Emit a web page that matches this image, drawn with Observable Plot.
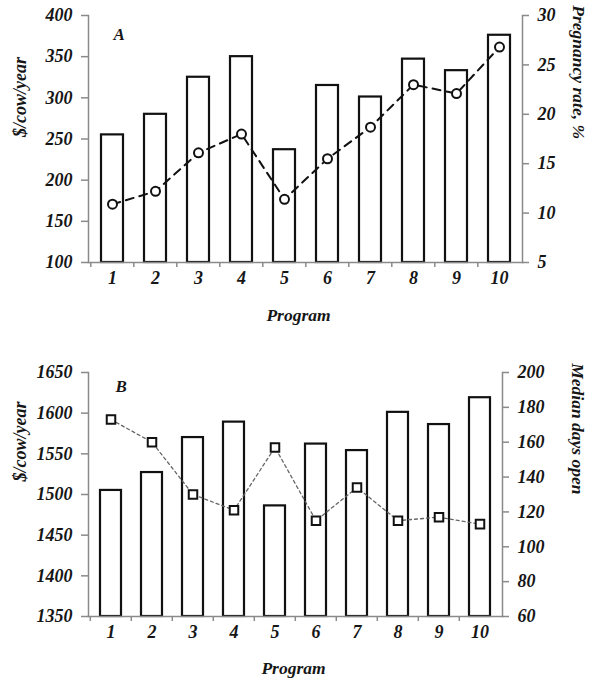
<!DOCTYPE html>
<html><head><meta charset="utf-8">
<script src="https://cdn.jsdelivr.net/npm/d3@7"></script>
<script src="https://cdn.jsdelivr.net/npm/@observablehq/plot@0.6"></script>
<style>
body{margin:0;background:#fff;}
#chart svg{display:block;}
</style></head><body><div id="chart"></div>
<script>
const programs = [1,2,3,4,5,6,7,8,9,10];
const incomeA = [255,280,325,350,237,315,301,347,333,376];
const pregnancyRate = [10.9,12.2,16.1,18.0,11.4,15.5,18.7,23.0,22.1,26.8];
const incomeB = [1505,1527,1570,1589,1486,1562,1554,1601,1586,1619];
const daysOpen = [173,160,130,121,157,115,134,115,117,113];
const ticksA = [100,150,200,250,300,350,400];
const ticksA2 = [5,10,15,20,25,30];
const ticksB = [1350,1400,1450,1500,1550,1600,1650];
const ticksB2 = [60,80,100,120,140,160,180,200];

function panel(cfg){
  const {width, height, ml, mr, mt, mb, yDom, y2Dom, yTicks, y2Ticks, bars, line, letter, rightLabel, symbol, lineStyle, dotR, letterDx, letterDy, leftDy, rightDx, progDx, progDy} = cfg;
  const map = d3.scaleLinear(y2Dom, yDom);
  const rows = programs.map((p,i)=>({program:p, bar:bars[i], v:line[i], vm:map(line[i])}));
  const step = (width - ml - mr)/programs.length;
  const axisGray = "#8a8a8a";
  return Plot.plot({
    width, height, marginLeft: ml, marginRight: mr, marginTop: mt, marginBottom: mb,
    style: {fontFamily: "'Liberation Serif', 'DejaVu Serif', serif", fontWeight: "bold", fontStyle: "italic", fontSize: "18px", color: "#161616", background: "white", overflow: "visible"},
    x: {type: "band", domain: programs, paddingInner: 0.5, paddingOuter: 0.25, axis: null},
    y: {domain: yDom, axis: null},
    marks: [
      Plot.barY(rows, {x: "program", y1: yDom[0], y2: "bar", fill: "white", stroke: "#111", strokeWidth: 2.2}),
      Plot.line(rows, {x: "program", y: "vm", ...lineStyle}),
      Plot.dot(rows, {x: "program", y: "vm", symbol, r: dotR, fill: "white", stroke: "#111", strokeWidth: 2}),
      Plot.frame({anchor: "left", stroke: axisGray, strokeWidth: 1.5}),
      Plot.frame({anchor: "right", stroke: axisGray, strokeWidth: 1.5}),
      Plot.frame({anchor: "bottom", stroke: axisGray, strokeWidth: 1.5}),
      Plot.axisY(yTicks, {anchor: "left", tickSize: 7, tickPadding: 9, tickFormat: d => String(d), stroke: axisGray, strokeWidth: 1.5, label: null}),
      Plot.axisY(y2Ticks, {anchor: "right", y: map, tickFormat: d => String(d), tickSize: 6, tickPadding: 9, stroke: axisGray, strokeWidth: 1.5, label: null}),
      Plot.axisX({tickSize: 5, fill: "none", stroke: axisGray, strokeWidth: 1.5, dx: -step/2, label: null}),
      Plot.axisX({tickSize: 0, tickPadding: 9, label: null}),
      Plot.text(["$/cow/year"], {frameAnchor: "left", rotate: -90, dx: -68, dy: leftDy, fontSize: 18}),
      Plot.text([rightLabel], {frameAnchor: "right", rotate: 90, dx: rightDx, fontSize: 17.5}),
      Plot.text(["Program"], {frameAnchor: "bottom", dx: progDx, dy: progDy, fontSize: 17.5}),
      Plot.text([letter], {frameAnchor: "top-left", dx: letterDx, dy: letterDy, fontSize: 17})
    ]
  });
}

const chart = document.getElementById("chart");
chart.append(panel({
  width: 589, height: 340, ml: 88, mr: 67, mt: 15, mb: 78,
  yDom: [100,400], y2Dom: [5,30], yTicks: ticksA, y2Ticks: ticksA2,
  bars: incomeA, line: pregnancyRate, letter: "A", rightLabel: "Pregnancy rate, %",
  symbol: "circle", dotR: 4.5,
  lineStyle: {stroke: "#111", strokeWidth: 2, strokeDasharray: "8,6"},
  letterDx: 25, letterDy: 12, leftDy: -2, rightDx: 56, progDx: -7, progDy: 58
}));
chart.append(panel({
  width: 589, height: 345, ml: 88, mr: 87, mt: 32, mb: 69,
  yDom: [1350,1650], y2Dom: [60,200], yTicks: ticksB, y2Ticks: ticksB2,
  bars: incomeB, line: daysOpen, letter: "B", rightLabel: "Median days open",
  symbol: "square", dotR: 4.8,
  lineStyle: {stroke: "#666", strokeWidth: 1.3, strokeDasharray: "3,3"},
  letterDx: 27, letterDy: 7, leftDy: -13, rightDx: 75, progDx: -2, progDy: 57
}));
</script></body></html>
